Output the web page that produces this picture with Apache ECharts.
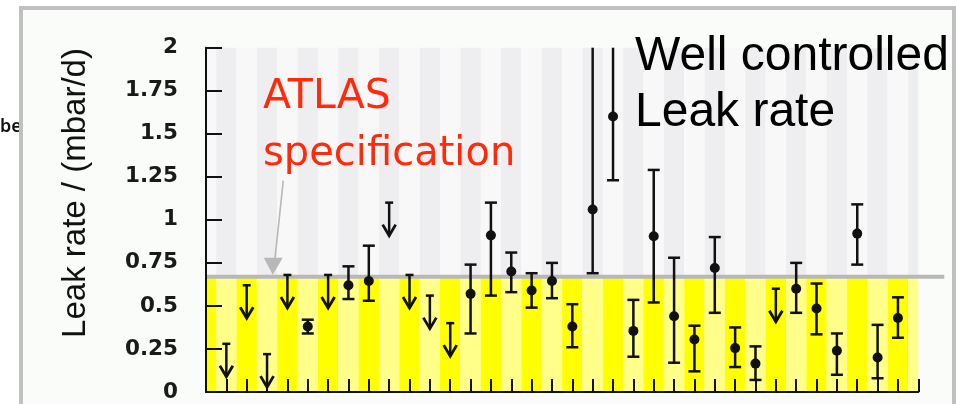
<!DOCTYPE html>
<html>
<head>
<meta charset="utf-8">
<script src="https://cdn.jsdelivr.net/npm/echarts@6/dist/echarts.min.js"></script>
<style>
  html, body { margin: 0; padding: 0; background: #ffffff; }
  #chart { width: 956px; height: 404px; }
</style>
</head>
<body>
<div id="chart"></div>
<script>
// Chamber positions along the x axis (one column per chamber)
const columnCount = 35;

// ATLAS leak-rate specification (mbar/d)
const specLimit = 0.67;

// Chambers where only an upper limit was obtained
const limitChamber = [1, 2, 3, 4, 6, 9, 10, 11, 12, 28];
const limitValue   = [0.28, 0.62, 0.22, 0.68, 0.68, 1.10, 0.68, 0.56, 0.40, 0.60];

// Chambers with a measured leak rate and its uncertainty band
const measChamber = [5, 7, 8, 13, 14, 15, 16, 17, 18, 19, 20, 21, 22, 23, 24, 25, 26, 27, 29, 30, 31, 32, 33, 34];
const measValue   = [0.38, 0.62, 0.645, 0.57, 0.91, 0.70, 0.59, 0.645, 0.38, 1.06, 1.60, 0.355, 0.905, 0.44, 0.305, 0.72, 0.255, 0.165, 0.60, 0.485, 0.24, 0.92, 0.20, 0.43];
const measLow     = [0.34, 0.54, 0.53, 0.34, 0.56, 0.58, 0.49, 0.545, 0.26, 0.69, 1.23, 0.205, 0.52, 0.17, 0.12, 0.46, 0.145, 0.07, 0.46, 0.335, 0.10, 0.74, 0.08, 0.315];
const measHigh    = [0.42, 0.73, 0.85, 0.74, 1.10, 0.81, 0.69, 0.75, 0.51, 2.2, 2.2, 0.535, 1.29, 0.78, 0.385, 0.90, 0.375, 0.265, 0.75, 0.63, 0.34, 1.09, 0.39, 0.55];

// Y axis range and step
const yMin = 0, yMax = 2, yStep = 0.25;

const stripeData = [];
for (let i = 0; i <= columnCount; i++) stripeData.push([i]);
const limitData = limitChamber.map((c, i) => [c, limitValue[i]]);
const measData = measChamber.map((c, i) => [c, measValue[i], measLow[i], measHigh[i]]);

const ink = '#111111';
const chart = echarts.init(document.getElementById('chart'));

chart.setOption({
  backgroundColor: '#ffffff',
  animation: false,
  grid: { left: 206, right: 37.7, top: 47.7, bottom: 12, containLabel: false },
  xAxis: {
    type: 'value', min: 0, max: columnCount, interval: 1, z: 10,
    axisLine: { lineStyle: { color: ink, width: 2 } },
    axisTick: { inside: true, length: 13, lineStyle: { color: ink, width: 2 } },
    axisLabel: { show: false },
    splitLine: { show: false }
  },
  yAxis: {
    type: 'value', min: yMin, max: yMax, interval: yStep, z: 10,
    axisLine: { show: true, lineStyle: { color: ink, width: 2 } },
    axisTick: { inside: true, length: 16, lineStyle: { color: ink, width: 2 } },
    axisLabel: {
      margin: 28, color: '#1a1a1a', fontFamily: 'DejaVu Sans',
      fontWeight: 'bold', fontSize: 21.5
    },
    splitLine: { show: false }
  },
  graphic: [
    { type: 'text', z: -2, x: 0, y: 127,
      style: { text: 'be', fontFamily: 'Noto Sans', fontSize: 18, fontWeight: 600, fill: '#111',
               textAlign: 'left', textVerticalAlign: 'middle' } },
    { type: 'rect', z: -1,
      shape: { x: 21, y: 8, width: 933, height: 420 },
      style: { fill: '#fafcfa', stroke: '#c0c0c0', lineWidth: 4 } },
    { type: 'text', z: 100, x: 76, y: 193, rotation: Math.PI / 2,
      style: { text: 'Leak rate / (mbar/d)', font: '33px "Liberation Sans"', fill: '#111',
               textAlign: 'center', textVerticalAlign: 'middle' } },
    { type: 'text', z: 100, x: 263, y: 97,
      style: { text: 'ATLAS', font: '41px "DejaVu Sans"', fill: '#ff2a0a',
               textAlign: 'left', textVerticalAlign: 'middle' } },
    { type: 'text', z: 100, x: 263, y: 155,
      style: { text: 'specification', font: '40px "DejaVu Sans"', fill: '#ff2a0a',
               textAlign: 'left', textVerticalAlign: 'middle' } },
    { type: 'text', z: 100, x: 635, y: 57,
      style: { text: 'Well controlled', font: '48px "Liberation Sans"', fill: '#000',
               textAlign: 'left', textVerticalAlign: 'middle' } },
    { type: 'text', z: 100, x: 635, y: 113,
      style: { text: 'Leak rate', font: '48px "Liberation Sans"', fill: '#000',
               textAlign: 'left', textVerticalAlign: 'middle' } }
  ],
  series: [
    {
      // alternating column shading, grey above the specification and yellow below
      type: 'custom', z: 1, silent: true,
      data: stripeData,
      renderItem: function (params, api) {
        const i = api.value(0);
        const cs = params.coordSys;
        const a = api.coord([Math.max(0, i - 0.5), yMax]);
        const b = api.coord([Math.min(columnCount, i + 0.5), yMin]);
        const s = api.coord([i, specLimit]);
        const even = i % 2 === 0;
        return {
          type: 'group',
          children: [
            { type: 'rect', shape: { x: a[0], y: cs.y, width: b[0] - a[0], height: s[1] - cs.y },
              style: { fill: even ? '#f8f8f8' : '#eeeef1' } },
            { type: 'rect', shape: { x: a[0], y: s[1], width: b[0] - a[0], height: b[1] - s[1] },
              style: { fill: even ? '#ffff00' : '#ffff8a' } }
          ]
        };
      }
    },
    {
      // specification line with its annotation arrow
      type: 'custom', z: 3, silent: true,
      data: [[3.28, specLimit]],
      renderItem: function (params, api) {
        const cs = params.coordSys;
        const p = api.coord([api.value(0), api.value(1)]);
        const y = p[1];
        const grey = '#b8b8b8';
        return {
          type: 'group',
          children: [
            { type: 'line', shape: { x1: cs.x, y1: y, x2: cs.x + cs.width + 26, y2: y },
              style: { stroke: grey, lineWidth: 4 } },
            { type: 'line', shape: { x1: p[0] + 10.5, y1: y - 96, x2: p[0] + 2, y2: y - 16 },
              style: { stroke: grey, lineWidth: 1.6 } },
            { type: 'polygon', shape: { points: [[p[0], y - 2], [p[0] - 9, y - 19], [p[0] + 10, y - 19]] },
              style: { fill: grey } }
          ]
        };
      }
    },
    {
      // upper limits drawn as downward arrows
      type: 'custom', z: 12, silent: true,
      data: limitData,
      renderItem: function (params, api) {
        const p = api.coord([api.value(0), api.value(1)]);
        const st = { stroke: ink, lineWidth: 2.5, fill: null };
        return {
          type: 'group',
          children: [
            { type: 'line', shape: { x1: p[0] - 4, y1: p[1], x2: p[0] + 4, y2: p[1] }, style: st },
            { type: 'line', shape: { x1: p[0], y1: p[1], x2: p[0], y2: p[1] + 33 }, style: st },
            { type: 'polyline', shape: { points: [[p[0] - 6.5, p[1] + 22], [p[0], p[1] + 33], [p[0] + 6.5, p[1] + 22]] },
              style: { stroke: ink, lineWidth: 2.8, fill: null } }
          ]
        };
      }
    },
    {
      // measured leak rates with error bars
      type: 'custom', z: 12, silent: true,
      data: measData,
      renderItem: function (params, api) {
        const cs = params.coordSys;
        const x = api.value(0);
        const pv = api.coord([x, api.value(1)]);
        const pl = api.coord([x, api.value(2)]);
        const ph = api.coord([x, api.value(3)]);
        const clipped = ph[1] < cs.y;
        const yh = clipped ? cs.y : ph[1];
        const st = { stroke: ink, lineWidth: 2.5 };
        const kids = [
          { type: 'line', shape: { x1: pv[0], y1: pl[1], x2: pv[0], y2: yh }, style: st },
          { type: 'line', shape: { x1: pv[0] - 6, y1: pl[1], x2: pv[0] + 6, y2: pl[1] }, style: st }
        ];
        if (!clipped) {
          kids.push({ type: 'line', shape: { x1: pv[0] - 6, y1: yh, x2: pv[0] + 6, y2: yh }, style: st });
        }
        kids.push({ type: 'circle', shape: { cx: pv[0], cy: pv[1], r: 5 }, style: { fill: ink } });
        return { type: 'group', children: kids };
      }
    }
  ]
});
</script>
</body>
</html>
